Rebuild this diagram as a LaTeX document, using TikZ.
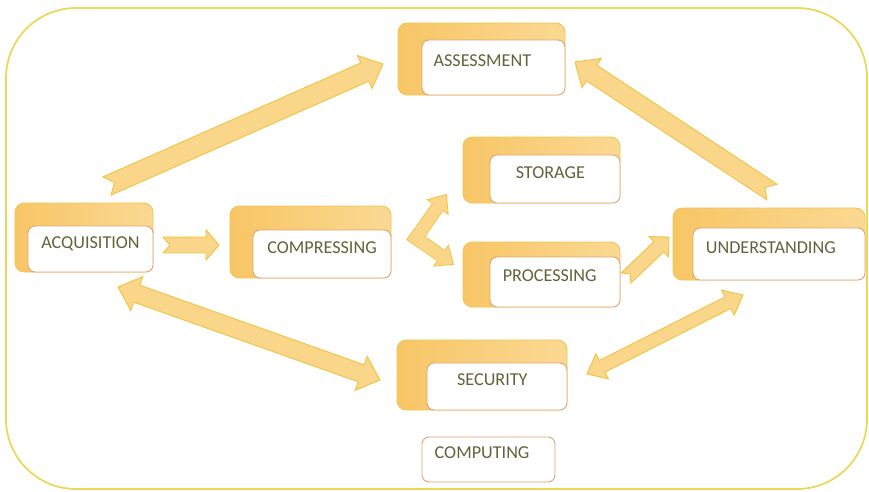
\documentclass[tikz,border=0pt]{standalone}
\usepackage{fontspec}
\setmainfont{Carlito}
\usetikzlibrary{calc,positioning}

\definecolor{frameline}{HTML}{EBD75A}
\definecolor{backdark}{HTML}{F7C666}
\definecolor{backlight}{HTML}{FBD993}
\definecolor{backline}{HTML}{F2C452}
\definecolor{boxline}{HTML}{E0A270}
\definecolor{labeltext}{HTML}{65623A}
\definecolor{arrowfill}{HTML}{F9D68A}
\definecolor{arrowline}{HTML}{F1C444}

\tikzset{
  boxsize/.style 2 args={minimum width=#1cm, minimum height=#2cm},
  textshift/.style={execute at end node=\hspace*{#1pt}},
  backbox/.style={rectangle, rounded corners=8pt, draw=backline, line width=0.8pt,
    left color=backdark, right color=backlight, inner sep=0pt},
  whitebox/.style={rectangle, rounded corners=6pt, draw=boxline, line width=0.8pt,
    fill=white, inner sep=0pt, text height=10pt, text depth=11pt,
    font=\fontsize{15.5}{17}\selectfont, text=labeltext},
  blockarrow/.style={fill=arrowfill, draw=arrowline, line width=0.8pt, line join=miter},
}

% fat arrow: [style]{from}{to}{half body}{half head}{head length}{tail notch}, sizes in pt
\newcommand{\fatarrow}[7][]{%
  \draw[blockarrow,#1] let \p1=($(#3)-(#2)$), \n1={atan2(\y1,\x1)}, \n2={veclen(\x1,\y1)} in
    [shift={(#2)}, rotate=\n1]
    (0pt,#4pt) -- ({\n2-#6pt},#4pt) -- ({\n2-#6pt},#5pt) -- (\n2,0pt)
    -- ({\n2-#6pt},-#5pt) -- ({\n2-#6pt},-#4pt) -- (0pt,-#4pt) -- (#7pt,0pt) -- cycle;}
% two-headed: [style]{from}{to}{half body}{half head}{head length}
\newcommand{\twoway}[6][]{%
  \draw[blockarrow,#1] let \p1=($(#3)-(#2)$), \n1={atan2(\y1,\x1)}, \n2={veclen(\x1,\y1)} in
    [shift={(#2)}, rotate=\n1]
    (0pt,0pt) -- (#6pt,#5pt) -- (#6pt,#4pt) -- ({\n2-#6pt},#4pt) -- ({\n2-#6pt},#5pt)
    -- (\n2,0pt) -- ({\n2-#6pt},-#5pt) -- ({\n2-#6pt},-#4pt) -- (#6pt,-#4pt)
    -- (#6pt,-#5pt) -- cycle;}

\begin{document}
\begin{tikzpicture}[x=0.03cm, y=-0.03cm]
  \useasboundingbox (0,0) rectangle (869,491);
  \draw[frameline, line width=1.5pt, rounded corners=2.1cm] (6,8) rectangle (867,489);

  % stages
  \node[backbox, boxsize={4.14}{2.07}] (acqb) at (84,237.5) {};
  \node[whitebox, boxsize={3.75}{1.38}, anchor=south east] (acq) at (acqb.south east) {ACQUISITION};
  \node[backbox, boxsize={4.83}{2.16}] (compb) at (310.5,242) {};
  \node[whitebox, boxsize={4.14}{1.44}, anchor=south east] (comp) at (compb.south east) {COMPRESSING};
  \node[backbox, boxsize={5.01}{2.16}] (assb) at (481.5,59) {};
  \node[whitebox, boxsize={4.29}{1.65}, anchor=south east, textshift=19] (ass) at (assb.south east) {ASSESSMENT};
  \node[backbox, boxsize={4.71}{1.98}] (storb) at (541.5,170) {};
  \node[whitebox, boxsize={3.9}{1.44}, anchor=south east, textshift=8] (stor) at (storb.south east) {STORAGE};
  \node[backbox, boxsize={4.71}{1.95}] (procb) at (541.5,274.5) {};
  \node[whitebox, boxsize={3.9}{1.5}, anchor=south east, textshift=9] (proc) at (procb.south east) {PROCESSING};
  \node[backbox, boxsize={5.1}{2.1}] (secb) at (482,375) {};
  \node[whitebox, boxsize={4.2}{1.41}, anchor=south east, textshift=8] (sec) at (secb.south east) {SECURITY};
  \node[backbox, boxsize={5.76}{2.16}] (undb) at (769,244) {};
  \node[whitebox, boxsize={5.16}{1.56}, anchor=south east, textshift=14] (und) at (undb.south east) {UNDERSTANDING};
  \node[whitebox, boxsize={3.99}{1.35}, textshift=11] (compu) at (488.5,459.5) {COMPUTING};

  % arrow ends
  \coordinate (acq-up) at (107,186);
  \coordinate (ass-in-l) at (383,64);
  \coordinate (und-up) at (772,192);
  \coordinate (ass-in-r) at (575,62);
  \coordinate (acq-out) at (163,245);
  \coordinate (comp-in) at (219,245);
  \coordinate (fork-a) at (412.6,243);
  \coordinate (fork-b) at (411,234.5);
  \coordinate (stor-in) at (446,195);
  \coordinate (proc-in) at (453,264);
  \coordinate (proc-out) at (626,278);
  \coordinate (und-in) at (669,237);
  \coordinate (acq-low) at (118,287);
  \coordinate (sec-l) at (380,380);
  \coordinate (sec-r) at (587,374);
  \coordinate (und-low) at (743,295);

  \fatarrow{acq-up}{ass-in-l}{8.5}{15.4}{17}{7}
  \fatarrow{und-up}{ass-in-r}{8}{15}{17}{7}
  \fatarrow{acq-out}{comp-in}{6.8}{12.8}{11}{6}
  \fatarrow[fill=none, line width=1.6pt]{fork-a}{stor-in}{5}{10}{12}{0}
  \fatarrow[fill=none, line width=1.6pt]{fork-b}{proc-in}{5}{10}{12}{0}
  \fatarrow[draw=none]{fork-a}{stor-in}{5}{10}{12}{0}
  \fatarrow[draw=none]{fork-b}{proc-in}{5}{10}{12}{0}
  \fatarrow{proc-out}{und-in}{6}{12}{12}{5}
  \twoway{acq-low}{sec-l}{7.7}{15.4}{17}
  \twoway{sec-r}{und-low}{5.5}{12}{14.5}
\end{tikzpicture}
\end{document}
